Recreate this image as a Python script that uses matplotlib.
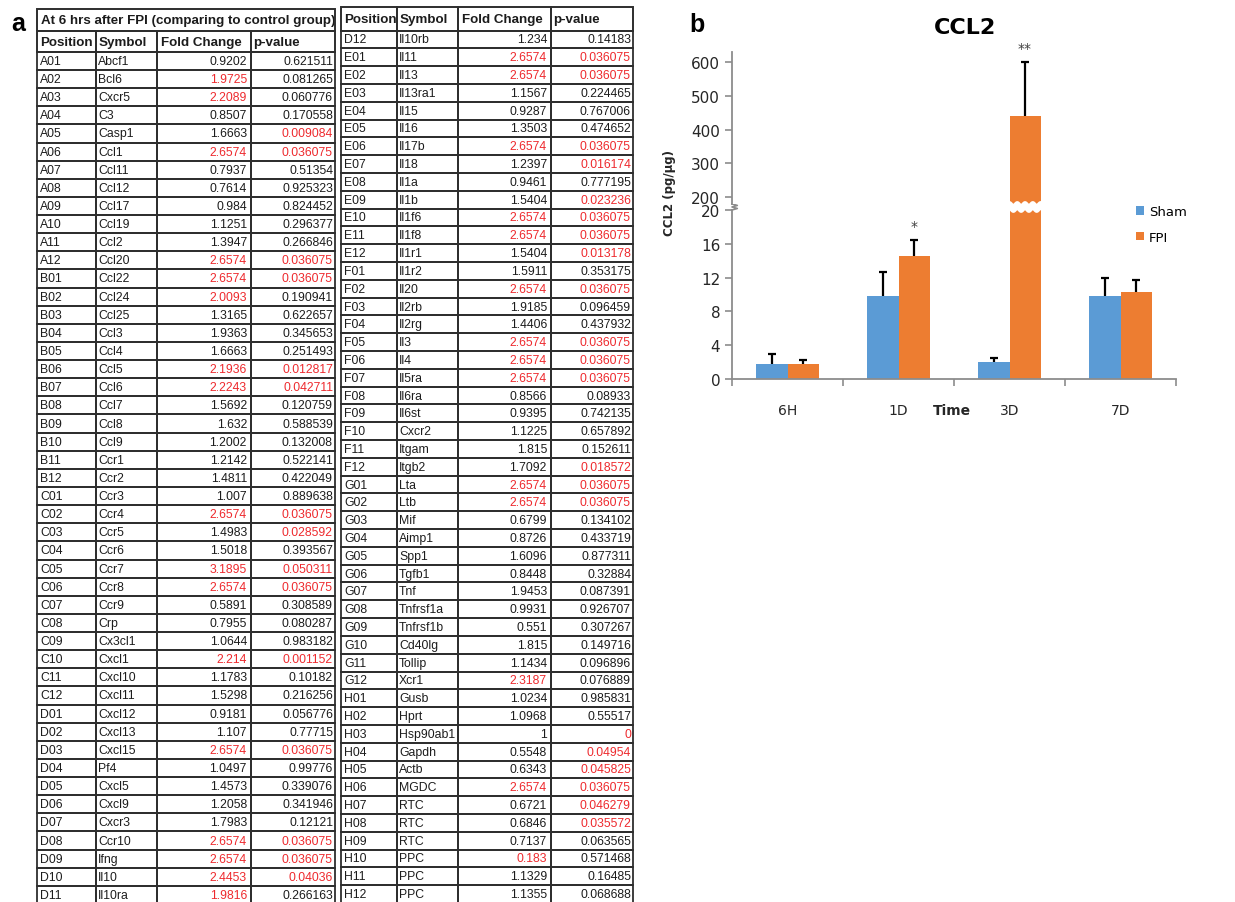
import numpy as np
import matplotlib
matplotlib.use("Agg")
from matplotlib import pyplot as plt
from matplotlib.table import Table

""" ------ panel a: PCR array table (values as printed) ------ """

POSITIONS = [f"{r}{c:02d}" for r in "ABCDEFGH" for c in range(1, 13)]

SYMBOLS = [
    "Abcf1", "Bcl6", "Cxcr5", "C3", "Casp1", "Ccl1", "Ccl11", "Ccl12", "Ccl17", "Ccl19", "Ccl2", "Ccl20",
    "Ccl22", "Ccl24", "Ccl25", "Ccl3", "Ccl4", "Ccl5", "Ccl6", "Ccl7", "Ccl8", "Ccl9", "Ccr1", "Ccr2",
    "Ccr3", "Ccr4", "Ccr5", "Ccr6", "Ccr7", "Ccr8", "Ccr9", "Crp", "Cx3cl1", "Cxcl1", "Cxcl10", "Cxcl11",
    "Cxcl12", "Cxcl13", "Cxcl15", "Pf4", "Cxcl5", "Cxcl9", "Cxcr3", "Ccr10", "Ifng", "Il10", "Il10ra", "Il10rb",
    "Il11", "Il13", "Il13ra1", "Il15", "Il16", "Il17b", "Il18", "Il1a", "Il1b", "Il1f6", "Il1f8", "Il1r1",
    "Il1r2", "Il20", "Il2rb", "Il2rg", "Il3", "Il4", "Il5ra", "Il6ra", "Il6st", "Cxcr2", "Itgam", "Itgb2",
    "Lta", "Ltb", "Mif", "Aimp1", "Spp1", "Tgfb1", "Tnf", "Tnfrsf1a", "Tnfrsf1b", "Cd40lg", "Tollip", "Xcr1",
    "Gusb", "Hprt", "Hsp90ab1", "Gapdh", "Actb", "MGDC", "RTC", "RTC", "RTC", "PPC", "PPC", "PPC",
]

FOLD_CHANGE = [
    "0.9202", "1.9725", "2.2089", "0.8507", "1.6663", "2.6574", "0.7937", "0.7614", "0.984", "1.1251", "1.3947", "2.6574",
    "2.6574", "2.0093", "1.3165", "1.9363", "1.6663", "2.1936", "2.2243", "1.5692", "1.632", "1.2002", "1.2142", "1.4811",
    "1.007", "2.6574", "1.4983", "1.5018", "3.1895", "2.6574", "0.5891", "0.7955", "1.0644", "2.214", "1.1783", "1.5298",
    "0.9181", "1.107", "2.6574", "1.0497", "1.4573", "1.2058", "1.7983", "2.6574", "2.6574", "2.4453", "1.9816", "1.234",
    "2.6574", "2.6574", "1.1567", "0.9287", "1.3503", "2.6574", "1.2397", "0.9461", "1.5404", "2.6574", "2.6574", "1.5404",
    "1.5911", "2.6574", "1.9185", "1.4406", "2.6574", "2.6574", "2.6574", "0.8566", "0.9395", "1.1225", "1.815", "1.7092",
    "2.6574", "2.6574", "0.6799", "0.8726", "1.6096", "0.8448", "1.9453", "0.9931", "0.551", "1.815", "1.1434", "2.3187",
    "1.0234", "1.0968", "1", "0.5548", "0.6343", "2.6574", "0.6721", "0.6846", "0.7137", "0.183", "1.1329", "1.1355",
]

P_VALUE = [
    "0.621511", "0.081265", "0.060776", "0.170558", "0.009084", "0.036075", "0.51354", "0.925323", "0.824452", "0.296377", "0.266846", "0.036075",
    "0.036075", "0.190941", "0.622657", "0.345653", "0.251493", "0.012817", "0.042711", "0.120759", "0.588539", "0.132008", "0.522141", "0.422049",
    "0.889638", "0.036075", "0.028592", "0.393567", "0.050311", "0.036075", "0.308589", "0.080287", "0.983182", "0.001152", "0.10182", "0.216256",
    "0.056776", "0.77715", "0.036075", "0.99776", "0.339076", "0.341946", "0.12121", "0.036075", "0.036075", "0.04036", "0.266163", "0.14183",
    "0.036075", "0.036075", "0.224465", "0.767006", "0.474652", "0.036075", "0.016174", "0.777195", "0.023236", "0.036075", "0.036075", "0.013178",
    "0.353175", "0.036075", "0.096459", "0.437932", "0.036075", "0.036075", "0.036075", "0.08933", "0.742135", "0.657892", "0.152611", "0.018572",
    "0.036075", "0.036075", "0.134102", "0.433719", "0.877311", "0.32884", "0.087391", "0.926707", "0.307267", "0.149716", "0.096896", "0.076889",
    "0.985831", "0.55517", "0", "0.04954", "0.045825", "0.036075", "0.046279", "0.035572", "0.063565", "0.571468", "0.16485", "0.068688",
]

HEADERS = ["Position", "Symbol", "Fold Change", "p-value"]
TABLE_TITLE = "At 6 hrs after FPI (comparing to control group)"

""" ------ panel b: CCL2 bar chart ------ """

TIMES = ["6H", "1D", "3D", "7D"]
SHAM = [1.8, 9.8, 2.0, 9.8]
SHAM_ERR = [1.1, 2.9, 0.5, 2.2]
FPI = [1.8, 14.6, 440, 10.3]
FPI_ERR = [0.4, 1.9, 160, 1.45]
FPI_STARS = ["", "*", "**", ""]

SHAM_C = "#5b9bd5"
FPI_C = "#ed7d31"
RED = "#ee2a2e"
INK = "#1c1c1c"
GRID = "#2e2e2e"
AXC = "#8c8c8c"

W, H = 1235.0, 903.0
fig = plt.figure(figsize=(W / 100, H / 100), dpi=100)


def px_axes(x0, y0, x1, y1):
    # axes placed by pixel box (top-left origin)
    return fig.add_axes([x0 / W, 1 - y1 / H, (x1 - x0) / W, (y1 - y0) / H])


def is_red_fc(s):
    v = float(s)
    return v >= 1.95 or v <= 0.2


def is_red_p(s):
    return float(s) <= 0.0505


def draw_table(ax, rows, col_w, head_h, row_h, title=None, title_h=0):
    ax.axis("off")
    tbl = Table(ax, bbox=[0, 0, 1, 1])
    tbl.auto_set_font_size(False)
    lpad = [3, 2, 4, 2]
    rpad = [3, 2, 4, 2]
    r = 0
    if title is not None:
        edges = ["BTL", "BT", "BT", "BTR"]
        for c, w in enumerate(col_w):
            cell = tbl.add_cell(r, c, w, title_h, text=title if c == 0 else "",
                                loc="left", facecolor="none", edgecolor=GRID)
            cell.visible_edges = edges[c]
            cell.PAD = 4 / w
            cell.set_linewidth(1.4)
            cell.set_text_props(fontsize=9.6, fontweight="bold", color=INK,
                                fontfamily="Liberation Sans")
        r += 1
    for c, w in enumerate(col_w):
        cell = tbl.add_cell(r, c, w, head_h, text=HEADERS[c], loc="left",
                            facecolor="none", edgecolor=GRID)
        cell.PAD = lpad[c] / w + 0.005
        cell.set_linewidth(1.4)
        cell.set_text_props(fontsize=9.6, fontweight="bold", color=INK,
                            fontfamily="Liberation Sans")
    r += 1
    for i in rows:
        vals = [POSITIONS[i], SYMBOLS[i], FOLD_CHANGE[i], P_VALUE[i]]
        cols = [INK, INK,
                RED if is_red_fc(FOLD_CHANGE[i]) else INK,
                RED if is_red_p(P_VALUE[i]) else INK]
        for c, w in enumerate(col_w):
            loc = "left" if c < 2 else "right"
            cell = tbl.add_cell(r, c, w, row_h, text=vals[c], loc=loc,
                                facecolor="none", edgecolor=GRID)
            cell.PAD = (lpad[c] if c < 2 else rpad[c]) / w
            cell.set_linewidth(1.3)
            cell.set_text_props(fontsize=8.8, color=cols[c],
                                fontfamily="Liberation Sans")
        r += 1
    ax.add_table(tbl)


# left table: rows A01..D11, right table: D12..H12
ax_t1 = px_axes(37, 10, 335, 905)
draw_table(ax_t1, range(0, 47), [59, 61, 94, 84], 20, 17.77,
           title=TABLE_TITLE, title_h=22)
ax_t2 = px_axes(341, 8, 633, 904)
draw_table(ax_t2, range(47, 96), [56, 61, 93, 82], 24, 18.17)

fig.text(18 / W, 1 - 24 / H, "a", fontsize=18, fontweight="bold",
         ha="center", va="center", family="Liberation Sans")
fig.text(697 / W, 1 - 25 / H, "b", fontsize=18, fontweight="bold",
         ha="center", va="center", family="Liberation Sans")

""" ------ broken-axis bar chart ------ """

ax_lo = px_axes(732, 211, 1176, 380)
ax_hi = px_axes(732, 53, 1176, 205)
x = np.arange(len(TIMES))
bw = 0.28

for ax in (ax_lo, ax_hi):
    b1 = ax.bar(x - bw / 2, SHAM, bw, color=SHAM_C, zorder=2)
    b2 = ax.bar(x + bw / 2, FPI, bw, color=FPI_C, zorder=2)
    for xs, v, e in ((x - bw / 2, SHAM, SHAM_ERR), (x + bw / 2, FPI, FPI_ERR)):
        top = np.add(v, e)
        ax.vlines(xs, v, top, color="black", lw=1.6, zorder=3)
        ax.scatter(xs, top, marker="_", s=36, color="black", linewidths=1.6, zorder=3)
    ax.set_xlim(-0.5, len(TIMES) - 0.5)
    for sp in ("top", "right"):
        ax.spines[sp].set_visible(False)
    for sp in ("left", "bottom"):
        ax.spines[sp].set_color(AXC)
        ax.spines[sp].set_linewidth(1.3)
    ax.tick_params(axis="y", colors=AXC, labelcolor="#262626", labelsize=11,
                   length=5, width=1.2)
    for lab in ax.get_yticklabels():
        lab.set_family("DejaVu Sans")

ax_lo.set_ylim(0, 20)
ax_lo.set_yticks([0, 4, 8, 12, 16, 20])
ax_hi.set_ylim(179, 630)
ax_hi.set_yticks([200, 300, 400, 500, 600])
ax_hi.spines["bottom"].set_visible(False)
ax_hi.set_xticks([])

ax_lo.set_xticks(x)
ax_lo.set_xticklabels(TIMES, fontsize=10, color="#262626")
ax_lo.set_xticks(np.arange(-0.5, len(TIMES)), minor=True)
ax_lo.tick_params(axis="x", which="major", length=0, pad=17)
ax_lo.tick_params(axis="x", which="minor", length=5, width=1.2, color=AXC)

ax_lo.set_xlabel("Time", fontsize=10, fontweight="bold", color="#262626")
ax_lo.xaxis.set_label_coords((952 - 732) / 444, -(404 - 380) / 169)

# significance stars
for i, s in enumerate(FPI_STARS):
    if not s:
        continue
    top = FPI[i] + FPI_ERR[i]
    tgt = ax_hi if top > ax_lo.get_ylim()[1] else ax_lo
    tgt.annotate(s, (x[i] + bw / 2, top), xytext=(0, 10), textcoords="offset points",
                 ha="center", va="center", fontsize=10, color="#404040",
                 annotation_clip=False)

# wavy cut across the tall bar and break mark on the y axis
for i, v in enumerate(FPI):
    if v <= ax_lo.get_ylim()[1]:
        continue
    wx = np.linspace(x[i], x[i] + bw, 80)
    wave = np.cos(2 * np.pi * 4 * (wx - x[i]) / bw)
    ax_lo.plot(wx, 1.0 + 0.008 * wave, color="white", lw=2.2, zorder=5,
               transform=ax_lo.get_xaxis_transform(), clip_on=False)
    ax_hi.plot(wx, 0.0 + 0.009 * wave, color="white", lw=2.2, zorder=5,
               transform=ax_hi.get_xaxis_transform(), clip_on=False)

ax_lo.plot([0, 0.012, 0, 0.012, 0], [1.0, 1.009, 1.018, 1.027, 1.036],
           transform=ax_lo.transAxes, color=AXC, lw=1.2, clip_on=False)

fig.text(965 / W, 1 - 28 / H, "CCL2", fontsize=16, fontweight="bold",
         ha="center", va="center", family="DejaVu Sans")
fig.text(670 / W, 1 - 193 / H, "CCL2 (pg/\u03bcg)", rotation=90, fontsize=8.5,
         fontweight="bold", ha="center", va="center", color="#262626")

fig.legend(handles=[b1, b2], labels=["Sham", "FPI"], loc="upper left",
           bbox_to_anchor=(1136 / W, 1 - 206 / H), frameon=False, fontsize=9.5,
           handlelength=0.6, handleheight=0.6, handletextpad=0.4,
           labelspacing=0.95, borderaxespad=0, borderpad=0)

fig.savefig("out.png", dpi=100)
